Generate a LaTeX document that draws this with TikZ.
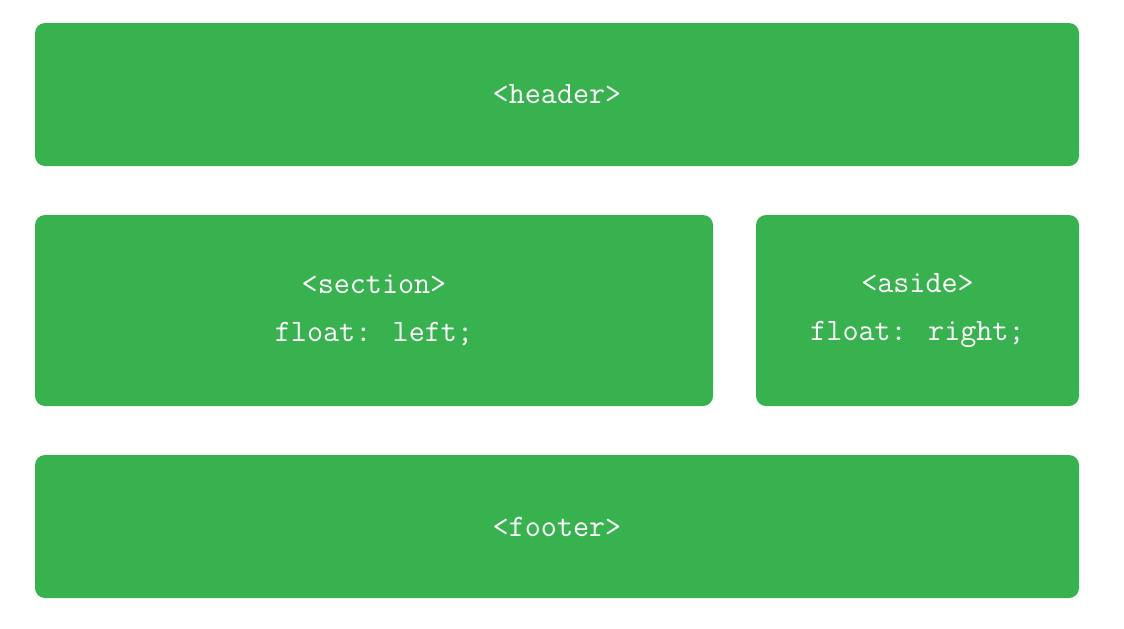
\documentclass[tikz,border=0pt]{standalone}
\usepackage{fontspec}
\definecolor{boxgreen}{HTML}{38B24F}
\begin{document}
\begin{tikzpicture}[x=0.5pt,y=-0.5pt,
  block/.style={fill=boxgreen, rounded corners=5pt, inner sep=0pt, text=white,
    align=center, font=\ttfamily\fontsize{15.6}{24}\selectfont}]
\useasboundingbox (0,0) rectangle (1124,628);
\node[block, minimum width=522pt, minimum height=71.5pt] (header) at (557,94.5) {<header>};
\node[block, minimum width=339pt, minimum height=95.5pt] (section) at (374,310.5) {<section>\\float: left;};
\node[block, minimum width=161.5pt, minimum height=95.5pt] (aside) at (917.5,310.5) {<aside>\\float: right;};
\node[block, minimum width=522pt, minimum height=71.5pt] (footer) at (557,526.5) {<footer>};
\end{tikzpicture}
\end{document}
